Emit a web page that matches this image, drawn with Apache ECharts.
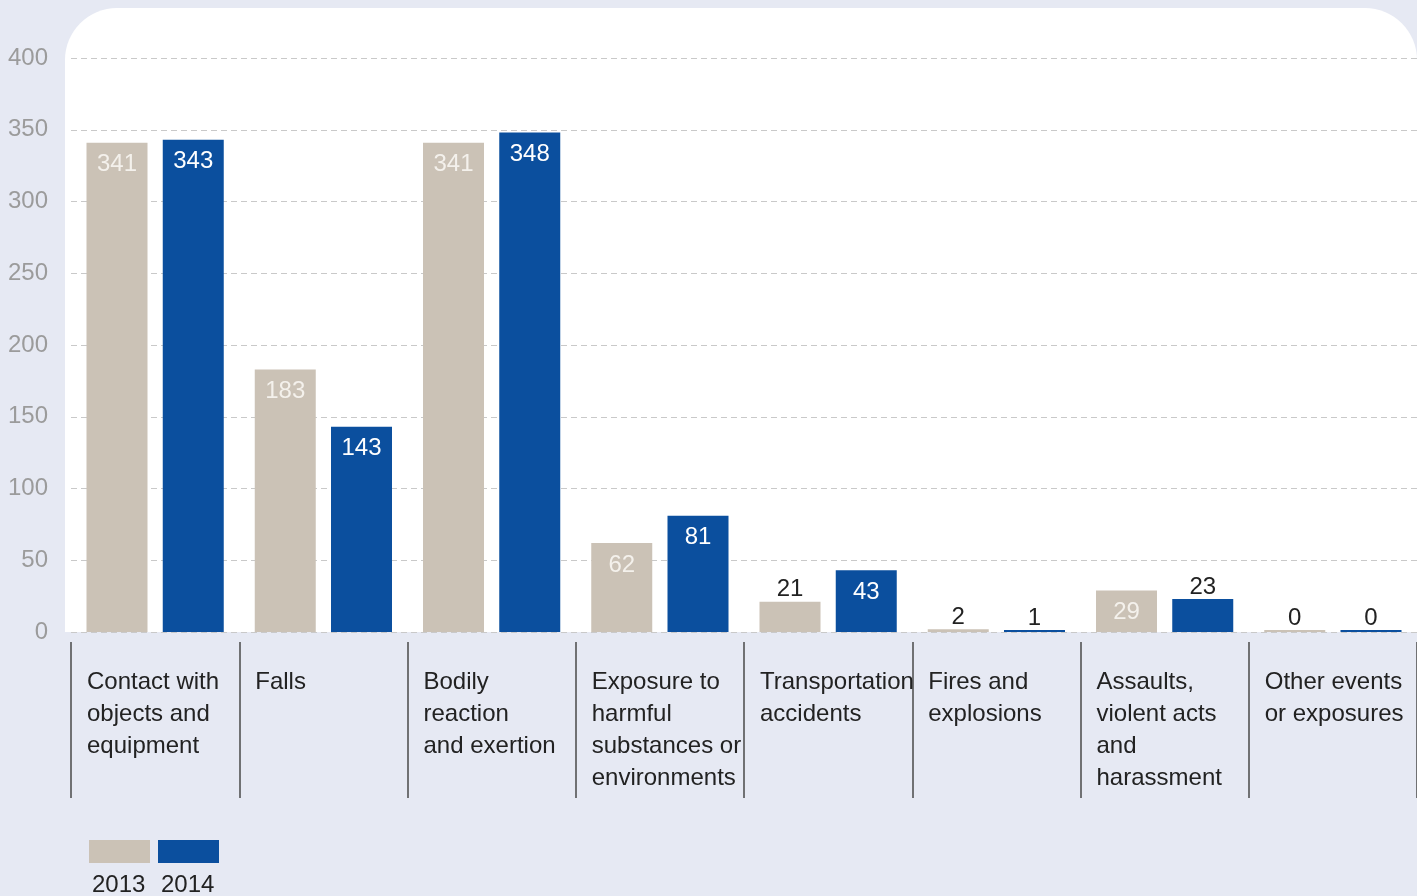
<!DOCTYPE html>
<html>
<head>
<meta charset="utf-8">
<script src="https://cdn.jsdelivr.net/npm/echarts@6/dist/echarts.min.js"></script>
<style>
  html, body { margin: 0; padding: 0; background: #e6e9f3; }
  #chart { width: 1417px; height: 896px; }
</style>
</head>
<body>
<div id="chart"></div>
<script>
// Chart data
const categories = [
  'Contact with\nobjects and\nequipment',
  'Falls',
  'Bodily\nreaction\nand exertion',
  'Exposure to\nharmful\nsubstances or\nenvironments',
  'Transportation\naccidents',
  'Fires and\nexplosions',
  'Assaults,\nviolent acts\nand\nharassment',
  'Other events\nor exposures'
];
const years = ['2013', '2014'];
const values2013 = [341, 183, 341, 62, 21, 2, 29, 0];
const values2014 = [343, 143, 348, 81, 43, 1, 23, 0];
const yTicks = [0, 50, 100, 150, 200, 250, 300, 350, 400];

const FONT = 'Liberation Sans, Arial, sans-serif';
const BEIGE = '#cbc2b6';
const BLUE = '#0b4f9e';

// small bars get their label above the bar, in dark text
const withLabels = (vals, insideColor) => vals.map(v => ({
  value: v,
  label: v >= 25
    ? { position: 'insideTop', distance: 10, color: insideColor }
    : { position: 'top', distance: 0, color: '#222' }
}));

const chart = echarts.init(document.getElementById('chart'));

const option = {
  backgroundColor: '#e6e9f3',
  animation: false,
  textStyle: { fontFamily: FONT },
  graphic: [
    {
      type: 'rect',
      z: -10,
      silent: true,
      shape: { x: 65, y: 8, width: 1352, height: 624, r: [52, 52, 0, 0] },
      style: { fill: '#ffffff' }
    },
    ...years.map((y, i) => ({
      type: 'text',
      left: i === 0 ? 92 : 161,
      top: 873,
      style: { text: y, fontSize: 24, fontFamily: FONT, fill: '#222' }
    }))
  ],
  legend: {
    data: years,
    left: 89,
    top: 840,
    padding: 0,
    itemWidth: 61,
    itemHeight: 23,
    itemGap: 8,
    icon: 'rect',
    formatter: () => '',
    selectedMode: false
  },
  grid: { left: 71, right: 0, top: 58, bottom: 264, outerBoundsMode: 'none', containLabel: false },
  xAxis: [
    {
      type: 'category',
      data: categories,
      axisLine: { show: false },
      axisTick: { show: false },
      axisLabel: { show: false }
    },
    {
      // separators and left-aligned category names
      type: 'value',
      min: 0,
      max: 8,
      interval: 1,
      position: 'bottom',
      offset: 10,
      axisLine: { show: false },
      splitLine: { show: false },
      axisTick: { show: true, length: 156, lineStyle: { color: '#4a4a4a', width: 1.5 } },
      axisLabel: {
        showMinLabel: true,
        showMaxLabel: true,
        formatter: v => categories[v] || '',
        align: 'left',
        verticalAlign: 'top',
        padding: [0, 0, 0, 16],
        margin: 24,
        fontSize: 24,
        lineHeight: 32,
        color: '#222',
        fontFamily: FONT
      }
    }
  ],
  yAxis: {
    type: 'value',
    min: yTicks[0],
    max: yTicks[yTicks.length - 1],
    interval: 50,
    axisLine: { show: false },
    axisTick: { show: false },
    axisLabel: { fontSize: 24, color: '#9b9b9b', margin: 23, fontFamily: FONT },
    splitLine: { lineStyle: { color: '#c9c9c9', type: [6, 4], width: 1 } }
  },
  series: [
    {
      name: years[0],
      type: 'bar',
      xAxisIndex: 0,
      barWidth: 61,
      barGap: '25%',
      barMinHeight: 2,
      itemStyle: { color: BEIGE },
      label: { show: true, fontSize: 24, fontFamily: FONT },
      data: withLabels(values2013, '#f4f1ec')
    },
    {
      name: years[1],
      type: 'bar',
      xAxisIndex: 0,
      barWidth: 61,
      barGap: '25%',
      barMinHeight: 2,
      itemStyle: { color: BLUE },
      label: { show: true, fontSize: 24, fontFamily: FONT },
      data: withLabels(values2014, '#ffffff')
    }
  ]
};

chart.setOption(option);
window.addEventListener('resize', () => chart.resize());
</script>
</body>
</html>
